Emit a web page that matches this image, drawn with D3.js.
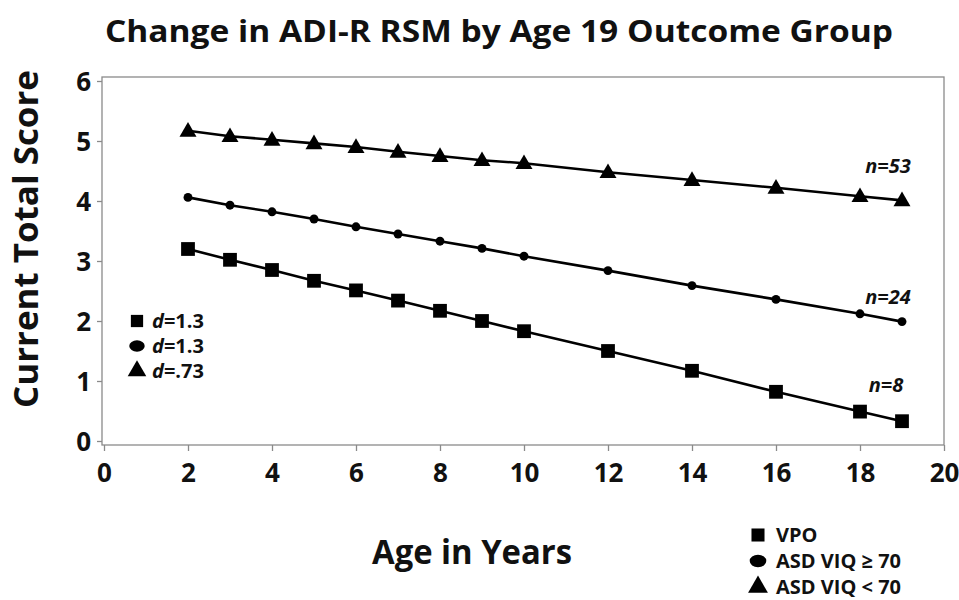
<!DOCTYPE html>
<html><head><meta charset="utf-8">
<script src="https://cdn.jsdelivr.net/npm/d3@7"></script>
<style>
html,body{margin:0;padding:0;background:#fff;}
svg{display:block;font-family:"Open Sans","Noto Sans",sans-serif;}
</style></head>
<body>
<svg id="chart" width="959" height="600"></svg>
<script>
const ages = [2,3,4,5,6,7,8,9,10,12,14,16,18,19];
const vpo = [3.20,3.02,2.85,2.67,2.51,2.34,2.17,2.00,1.83,1.50,1.17,0.82,0.49,0.33];
const asdHigh = [4.06,3.93,3.82,3.70,3.57,3.45,3.33,3.21,3.08,2.84,2.59,2.36,2.12,1.99];
const asdLow = [5.17,5.08,5.02,4.96,4.90,4.82,4.75,4.68,4.63,4.48,4.35,4.22,4.08,4.01];
const seriesNames = ["VPO","ASD VIQ \u2265 70","ASD VIQ < 70"];
const seriesN = ["n=8","n=24","n=53"];
const effectD = ["1.3","1.3",".73"];
const xTicks = [0,2,4,6,8,10,12,14,16,18,20];
const yTicks = [0,1,2,3,4,5,6];
const title = "Change in ADI-R RSM by Age 19 Outcome Group";
const xTitle = "Age in Years";
const yTitle = "Current Total Score";

const svg = d3.select("#chart");
const x = d3.scaleLinear().domain([0,20]).range([104,944]);
const y = d3.scaleLinear().domain([0,6]).range([441,81]);

// frame
svg.append("rect").attr("x",102).attr("y",77).attr("width",842).attr("height",368)
  .attr("fill","none").attr("stroke","#8a8a8a").attr("stroke-width",1.3);

// axes
const xa = svg.append("g").attr("transform","translate(0,445)")
  .call(d3.axisBottom(x).tickValues(xTicks).tickSize(6).tickPadding(7).tickFormat(d3.format("d")));
const ya = svg.append("g").attr("transform","translate(102,0)")
  .call(d3.axisLeft(y).tickValues(yTicks).tickSize(5).tickPadding(6).tickFormat(d3.format("d")));
[xa,ya].forEach(a=>{
  a.select(".domain").remove();
  a.selectAll("line").attr("stroke","#8a8a8a").attr("stroke-width",1.3);
  a.selectAll("text").attr("font-size",26).attr("font-weight",700).attr("fill","#111")
   .attr("font-family","'Open Sans',sans-serif");
});
xa.selectAll("text").attr("dy","0.92em");
ya.selectAll("text").attr("dy","0.35em");

const series = [
  {vals: vpo, shape: d3.symbolSquare, size: 190},
  {vals: asdHigh, shape: d3.symbolCircle, size: 62},
  {vals: asdLow, shape: d3.symbolTriangle, size: 125}
];
const line = d3.line().x(d=>x(d[0])).y(d=>y(d[1]));
series.forEach(s=>{
  const pts = ages.map((a,i)=>[a,s.vals[i]]);
  svg.append("path").attr("d",line(pts)).attr("fill","none").attr("stroke","#000").attr("stroke-width",2.6);
  svg.selectAll(null).data(pts).enter().append("path")
    .attr("d",d3.symbol().type(s.shape).size(s.size))
    .attr("transform",d=>`translate(${x(d[0])},${y(d[1]) + (s.shape===d3.symbolTriangle?1:0)})`)
    .attr("fill","#000");
});

// n labels
const nPos = [[886,392],[888,304],[888,173]];
seriesN.forEach((t,i)=>{
  svg.append("text").attr("x",nPos[i][0]).attr("y",nPos[i][1]).attr("text-anchor","middle")
    .attr("font-size",20).attr("font-weight",700).attr("font-style","italic").attr("fill","#111").text(t);
});

// left legend (effect sizes)
const legShapes = [d3.symbolSquare,d3.symbolCircle,d3.symbolTriangle];
const legSizes = [150,130,150];
const leftY = [321,346,371];
effectD.forEach((v,i)=>{
  const sym = svg.append("path").attr("d",d3.symbol().type(legShapes[i]).size(legSizes[i]))
    .attr("fill","#000");
  if(i===1) sym.attr("transform",`translate(137,${leftY[i]}) scale(1.2,0.9)`);
  else sym.attr("transform",`translate(137,${leftY[i]})`);
  const t = svg.append("text").attr("x",152).attr("y",leftY[i]+7).attr("font-size",20).attr("font-weight",700).attr("fill","#111");
  t.append("tspan").attr("font-style","italic").text("d");
  t.append("tspan").text("="+v);
});

// bottom-right legend
const brY = [535,561,587];
seriesNames.forEach((n,i)=>{
  const sym = svg.append("path").attr("d",d3.symbol().type(legShapes[i]).size(i===1?150:170)).attr("fill","#000");
  if(i===1) sym.attr("transform",`translate(758,${brY[i]}) scale(1.2,0.9)`);
  else sym.attr("transform",`translate(758,${brY[i]})`);
  svg.append("text").attr("x",776).attr("y",brY[i]+7).attr("font-size",20).attr("font-weight",700).attr("fill","#111").text(n);
});

// titles
svg.append("text").attr("x",499).attr("y",42).attr("text-anchor","middle")
  .attr("font-size",31).attr("font-weight",700).attr("fill","#111")
  .attr("textLength",788).attr("lengthAdjust","spacingAndGlyphs").text(title);
svg.append("text").attr("x",472).attr("y",564).attr("text-anchor","middle")
  .attr("font-size",34).attr("font-weight",700).attr("fill","#111")
  .attr("textLength",200).attr("lengthAdjust","spacingAndGlyphs").text(xTitle);
svg.append("text").attr("transform","translate(38,239) rotate(-90)").attr("text-anchor","middle")
  .attr("font-size",34).attr("font-weight",700).attr("fill","#111")
  .attr("textLength",338).attr("lengthAdjust","spacingAndGlyphs").text(yTitle);
</script>
</body></html>
